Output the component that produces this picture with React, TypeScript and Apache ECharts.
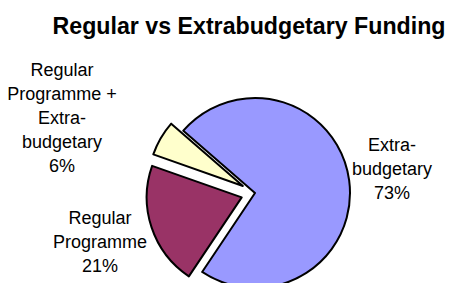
import React, { useEffect, useRef } from "react";
import * as echarts from "echarts";

const categories = [
  "Extra-\nbudgetary",
  "Regular\nProgramme",
  "Regular\nProgramme +\nExtra-\nbudgetary",
];
const values = [73, 21, 6];
const colors = ["#9999FF", "#993366", "#FFFFCC"];
const exploded = [false, true, true];
const labelCenters = [
  [392, 169],
  [100, 242],
  [62, 118],
];

export default function App() {
  const ref = useRef<HTMLDivElement>(null);
  useEffect(() => {
    if (!ref.current) return;
    const chart = echarts.init(ref.current, undefined, { renderer: "svg" });
    const total = values.reduce((a, b) => a + b, 0);
    chart.setOption({
      animation: false,
      backgroundColor: "#ffffff",
      title: {
        text: "Regular vs Extrabudgetary Funding",
        left: 244,
        textAlign: "center",
        top: 9,
        textStyle: {
          fontFamily: "Liberation Sans, Arial, sans-serif",
          fontWeight: "bold",
          fontSize: 23.2,
          color: "#000",
        },
      },
      graphic: categories.map((name, i) => ({
        type: "text",
        x: labelCenters[i][0],
        y: labelCenters[i][1],
        silent: true,
        style: {
          text: `${name}\n${Math.round((values[i] / total) * 100)}%`,
          align: "center",
          verticalAlign: "middle",
          fontFamily: "Liberation Sans, Arial, sans-serif",
          fontSize: 18,
          lineHeight: 24,
          fill: "#000",
        },
      })),
      series: [
        {
          type: "pie",
          center: [255, 193],
          radius: 95,
          startAngle: 139,
          clockwise: true,
          selectedMode: "multiple",
          selectedOffset: 14,
          emphasis: { disabled: true },
          itemStyle: { borderColor: "#000", borderWidth: 2 },
          label: { show: false },
          labelLine: { show: false },
          data: categories.map((name, i) => ({
            name,
            value: values[i],
            selected: exploded[i],
            itemStyle: { color: colors[i] },
          })),
        },
      ],
    });
    return () => chart.dispose();
  }, []);
  return <div ref={ref} style={{ width: 449, height: 283, position: "absolute", left: 0, top: 0 }} />;
}
